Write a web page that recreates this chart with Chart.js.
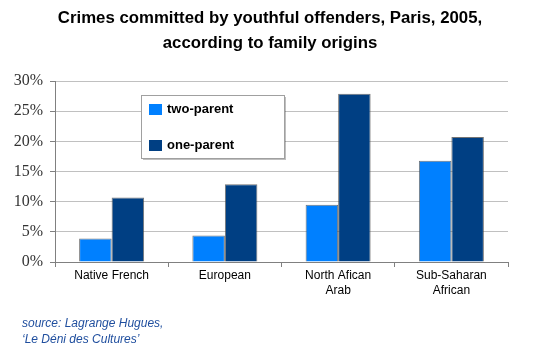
<!DOCTYPE html>
<html>
<head>
<meta charset="utf-8">
<script src="https://cdn.jsdelivr.net/npm/chart.js@4/dist/chart.umd.min.js"></script>
<style>
html,body{margin:0;padding:0;background:#fff;}
#wrap{width:550px;height:355px;position:relative;}
</style>
</head>
<body>
<div id="wrap"><canvas id="c" width="550" height="355"></canvas></div>
<script>
const categories = [['Native French'], ['European'], ['North Afican', 'Arab'], ['Sub-Saharan', 'African']];
const twoParent = [3.9, 4.4, 9.5, 16.8];
const oneParent = [10.7, 12.9, 27.9, 20.7];
const seriesNames = ['two-parent', 'one-parent'];
const titleLines = ['Crimes committed by youthful offenders, Paris, 2005,', 'according to family origins'];
const sourceLines = ['source: Lagrange Hugues,', '\u2018Le D\u00e9ni des Cultures\u2019'];

const boxLegend = {
  id: 'boxLegend',
  afterDatasetsDraw(chart) {
    const ctx = chart.ctx;
    const x = 141, y = 95, w = 143, h = 63;
    ctx.save();
    ctx.fillStyle = 'rgba(0,0,0,0.25)';
    ctx.fillRect(x + 2, y + 2, w, h);
    ctx.fillStyle = '#ffffff';
    ctx.fillRect(x, y, w, h);
    ctx.strokeStyle = '#a0a0a0';
    ctx.lineWidth = 1;
    ctx.strokeRect(x + 0.5, y + 0.5, w, h);
    ctx.font = 'bold 13px "Liberation Sans", Arial, sans-serif';
    ctx.textBaseline = 'middle';
    chart.data.datasets.forEach((ds, i) => {
      const cy = 109 + i * 36;
      ctx.fillStyle = ds.backgroundColor;
      ctx.fillRect(149, cy - 5, 13, 11);
      ctx.fillStyle = '#000';
      ctx.fillText(ds.label, 167, cy);
    });
    ctx.restore();
  }
};

const textNotes = {
  id: 'textNotes',
  afterDraw(chart) {
    const ctx = chart.ctx;
    ctx.save();
    ctx.textBaseline = 'middle';
    ctx.font = 'bold 16.8px "Liberation Sans", Arial, sans-serif';
    ctx.fillStyle = '#000';
    ctx.textAlign = 'center';
    titleLines.forEach((t, i) => ctx.fillText(t, 270, 18 + i * 25));
    ctx.font = 'italic 12px "Liberation Sans", Arial, sans-serif';
    ctx.fillStyle = '#1f4e9e';
    ctx.textAlign = 'left';
    sourceLines.forEach((t, i) => ctx.fillText(t, 22, 324 + i * 16));
    ctx.restore();
  }
};

new Chart(document.getElementById('c'), {
  type: 'bar',
  data: {
    labels: categories,
    datasets: [
      { label: seriesNames[0], data: twoParent, backgroundColor: '#0080ff', borderColor: 'rgba(70,70,70,0.75)', borderWidth: 1 },
      { label: seriesNames[1], data: oneParent, backgroundColor: '#003f83', borderColor: 'rgba(70,70,70,0.75)', borderWidth: 1 }
    ]
  },
  options: {
    responsive: false,
    animation: false,
    layout: { padding: { left: 0, right: 42, top: 81, bottom: 39 } },
    datasets: { bar: { barPercentage: 1.0, categoryPercentage: 0.574 } },
    plugins: {
      legend: { display: false },
      tooltip: { enabled: false },
      title: { display: false }
    },
    scales: {
      x: {
        afterFit(s) { s.height = 54; },
        grid: { offset: true, drawOnChartArea: false, drawTicks: true, tickLength: 5, color: '#808080' },
        border: { color: '#808080', width: 1 },
        ticks: {
          color: '#000',
          padding: 1,
          maxRotation: 0,
          font: { family: '"Liberation Sans", Arial, sans-serif', size: 12, lineHeight: 1.25 }
        }
      },
      y: {
        min: 0, max: 30,
        afterFit(s) { s.width = 55; },
        grid: { color: '#c0c0c0', tickLength: 5, tickColor: '#808080' },
        border: { color: '#808080', width: 1 },
        ticks: {
          stepSize: 5,
          padding: 7,
          color: '#333',
          font: { family: '"Liberation Serif", "Times New Roman", serif', size: 16 },
          callback: v => v + '%'
        }
      }
    }
  },
  plugins: [boxLegend, textNotes]
});
</script>
</body>
</html>
